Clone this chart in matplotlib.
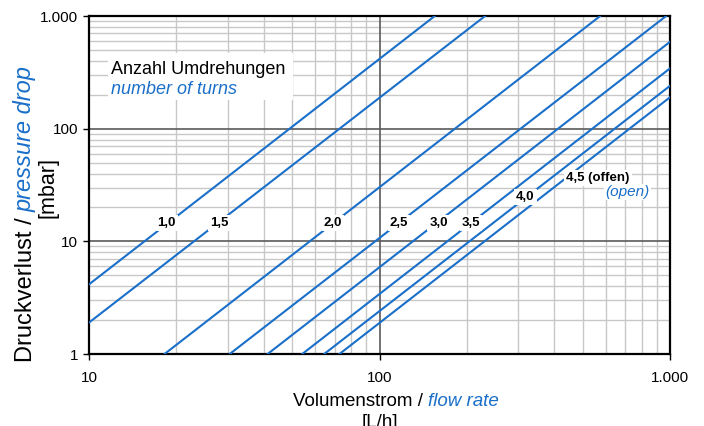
import matplotlib
matplotlib.use('Agg')
import matplotlib.pyplot as plt
from matplotlib.patches import Rectangle
from matplotlib.ticker import FixedLocator, FuncFormatter, NullFormatter

plt.rcParams['font.family'] = ['Liberation Sans', 'DejaVu Sans']

# Anzahl Umdrehungen (number of turns) for each curve
turns = ['1,0', '1,5', '2,0', '2,5', '3,0', '3,5', '4,0', '4,5 (offen)']

# end points of each curve: flow [L/h], pressure drop [mbar]
flow_start = [10, 10, 18.2, 30.5, 41.2, 54.2, 64.5, 72.8]
dp_start = [4.15, 1.9, 1, 1, 1, 1, 1, 1]
flow_end = [155, 231, 575, 970, 1000, 1000, 1000, 1000]
dp_end = [1000, 1000, 1000, 1000, 590, 343, 240, 190]

# where the curve labels sit
label_flow = [18.5, 28.2, 69.2, 116.7, 160, 206.6, 318, 565]
label_dp = [14.5, 14.5, 14.5, 14.5, 14.5, 14.5, 24.7, 36.5]

major_ticks = [1, 10, 100, 1000]
minor_ticks = [m * d for d in [1, 10, 100] for m in range(2, 10)]

blue = '#1a6fc9'
W, H = 704, 426

fig = plt.figure(figsize=(W / 100, H / 100), dpi=100)
ax = fig.add_axes([89 / W, 1 - 354 / H, 581 / W, 338 / H])
ax.set_xscale('log')
ax.set_yscale('log')
ax.set_xlim(10, 1000)
ax.set_ylim(1, 1000)

# Grid: light minor lines, darker decade lines on top of them
ax.xaxis.set_major_locator(FixedLocator(major_ticks[1:]))
ax.yaxis.set_major_locator(FixedLocator(major_ticks))
ax.xaxis.set_minor_locator(FixedLocator([t for t in minor_ticks if t >= 10]))
ax.yaxis.set_minor_locator(FixedLocator(minor_ticks))
ax.xaxis.set_minor_formatter(NullFormatter())
ax.yaxis.set_minor_formatter(NullFormatter())
fmt = FuncFormatter(lambda v, p: f'{int(round(v)):,}'.replace(',', '.'))
ax.xaxis.set_major_formatter(fmt)
ax.yaxis.set_major_formatter(fmt)
ax.set_axisbelow(True)
ax.grid(True, which='minor', color='#c8c8c8', lw=1.0)
for v in major_ticks[1:3]:
    ax.axvline(v, color='#5a5a5a', lw=1.2, zorder=0.8)
    ax.axhline(v, color='#5a5a5a', lw=1.2, zorder=0.8)

ax.tick_params(which='major', direction='out', length=4, width=1, labelsize=11, pad=4)
ax.tick_params(axis='x', which='major', pad=8)
ax.tick_params(which='minor', length=0)
for s in ax.spines.values():
    s.set_linewidth(1.6)
    s.set_color('black')

# Curves with their labels
for i in range(len(turns)):
    ax.plot([flow_start[i], flow_end[i]], [dp_start[i], dp_end[i]],
            color=blue, lw=1.5, zorder=3)
    ax.text(label_flow[i], label_dp[i], turns[i], fontsize=9.5, fontweight='bold',
            ha='center', va='center', zorder=4,
            bbox=dict(fc='white', ec='none', pad=1.5))
ax.text(716, 27.4, '(open)', fontsize=11, style='italic', color=blue,
        ha='center', va='center', zorder=4, bbox=dict(fc='white', ec='none', pad=1))

# Legend-like box top left
ax.add_patch(Rectangle((0.033, 0.752), 0.318, 0.139, transform=ax.transAxes,
                       fc='white', ec='none', zorder=1))
fig.text(110.7 / W, 1 - 74 / H, 'Anzahl Umdrehungen', fontsize=13, va='baseline')
fig.text(110.7 / W, 1 - 94 / H, 'number of turns', fontsize=13, style='italic',
         color=blue, va='baseline')

# Axis labels, two colours
fig.canvas.draw()
r = fig.canvas.get_renderer()
t1 = fig.text(293 / W, 1 - 406 / H, 'Volumenstrom /', fontsize=13.5, va='baseline')
bb = t1.get_window_extent(r)
fig.text((bb.x1 + 4.5) / W, 1 - 406 / H, 'flow rate', fontsize=13.5, style='italic',
         color=blue, va='baseline')
fig.text(380 / W, 1 - 427 / H, '[L/h]', fontsize=13.5, ha='center', va='baseline')

t2 = fig.text(32 / W, 1 - 362 / H, 'Druckverlust /', fontsize=17, rotation=90,
              rotation_mode='anchor', ha='left', va='baseline')
bb = t2.get_window_extent(r)
fig.text(32 / W, (bb.y1 + 5) / H, 'pressure drop', fontsize=17, rotation=90,
         rotation_mode='anchor', ha='left', va='baseline', style='italic', color=blue)
fig.text(53 / W, 1 - 187 / H, '[mbar]', fontsize=15.5, rotation=90,
         rotation_mode='anchor', ha='center', va='baseline')

fig.savefig('out.png', dpi=100)
